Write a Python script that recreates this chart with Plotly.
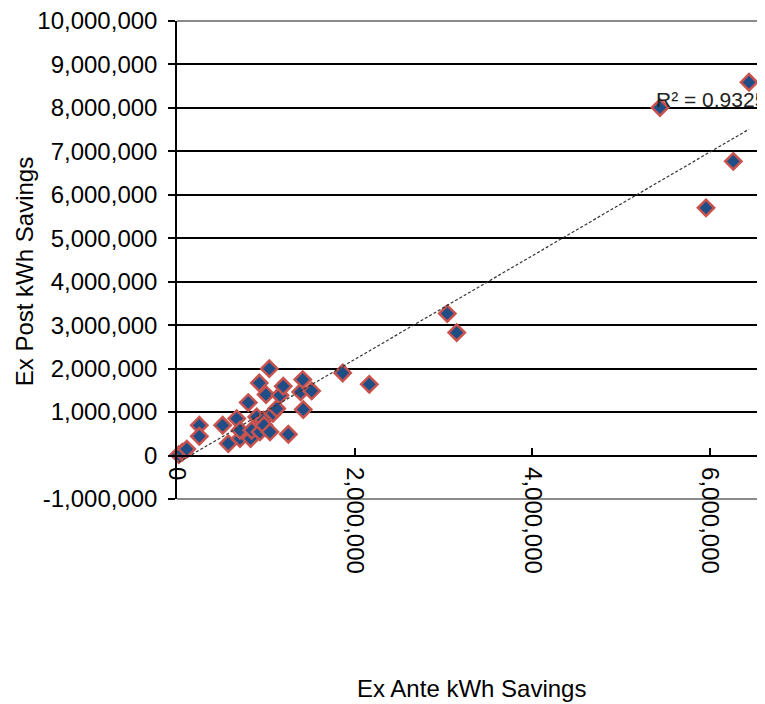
import numpy as np
import plotly.graph_objects as go

# Data (kWh)
ex_ante = [20000, 60000, 110000, 251000, 251000, 514000, 577000, 672000, 709000, 709000,
           802000, 829000, 841000, 897000, 934000, 971000, 979000, 926000, 1002000, 1039000,
           1047000, 1080000, 1122000, 1159000, 1196000, 1253000, 1392000, 1415000, 1421000,
           1516000, 1865000, 2164000, 3042000, 3148000, 5436000, 5954000, 6261000, 6438000]
ex_post = [20000, 80000, 150000, 697000, 444000, 697000, 276000, 851000, 391000, 582000,
           1220000, 391000, 582000, 888000, 543000, 812000, 697000, 1670000, 1404000, 2000000,
           543000, 973000, 1080000, 1387000, 1595000, 490000, 1463000, 1749000, 1058000,
           1486000, 1900000, 1640000, 3267000, 2830000, 8007000, 5700000, 6770000, 8590000]

x_tick_vals = [0, 2000000, 4000000, 6000000]
x_tick_text = ["0", "2,000,000", "4,000,000", "6,000,000"]
y_tick_vals = [-1000000, 0, 1000000, 2000000, 3000000, 4000000, 5000000,
               6000000, 7000000, 8000000, 9000000, 10000000]
y_tick_text = [f"{v:,}" for v in y_tick_vals]

r2_label = "R² = 0.9325"
x_title = "Ex Ante kWh Savings"
y_title = "Ex Post kWh Savings"

FONT = "Liberation Sans, Arial, sans-serif"

# Linear trendline from the data
xa = np.array(ex_ante, dtype=float)
ya = np.array(ex_post, dtype=float)
slope, intercept = np.polyfit(xa, ya, 1)
tx = [xa.min(), xa.max()]
ty = [slope * v + intercept for v in tx]

fig = go.Figure()
fig.add_trace(go.Scatter(
    x=ex_ante, y=ex_post, mode="markers", cliponaxis=False,
    marker=dict(symbol="diamond", size=12.5, color="#1F4E87",
                line=dict(color="#C8534E", width=2.5)),
    showlegend=False,
))
fig.add_trace(go.Scatter(
    x=tx, y=ty, mode="lines", cliponaxis=False,
    line=dict(color="#333333", width=1.2, dash="3px,2px"),
    showlegend=False,
))

# page body has an 8px margin -> figure sized to fit the window exactly
W, H = 757, 696
ML, MT, MB = 169, 12.7, 205.2
PW, PH = W - ML, H - MT - MB


def px(fx):
    return (fx - ML) / PW


def py(fy):
    return (H - MB - fy) / PH


fig.update_layout(
    width=W, height=H,
    margin=dict(l=ML, r=0, t=MT, b=MB, autoexpand=False),
    paper_bgcolor="white", plot_bgcolor="white",
    font=dict(family=FONT, size=24, color="#000000"),
    xaxis=dict(
        range=[0, 6618000], tickvals=x_tick_vals, ticktext=x_tick_text,
        tickangle=90, ticks="inside", ticklen=7, tickcolor="#000", tickwidth=1.5,
        ticklabelstandoff=6, ticklabeloverflow="allow",
        showline=True, linecolor="#000", linewidth=1.5,
        anchor="free", position=1/11,
        showgrid=False, zeroline=False,
        tickfont=dict(family=FONT, size=24, color="#000"),
    ),
    yaxis=dict(
        range=[-1000000, 10000000], tickvals=y_tick_vals, ticktext=y_tick_text,
        ticks="outside", ticklen=7, tickcolor="#000", tickwidth=1.5,
        ticklabelstandoff=6, ticklabeloverflow="allow",
        showline=True, linecolor="#000", linewidth=1.5,
        showgrid=True, gridcolor="#000", gridwidth=1.5,
        zeroline=False,
        tickfont=dict(family=FONT, size=24, color="#000"),
    ),
    shapes=[
        dict(type="line", xref="paper", yref="paper", x0=0, x1=1, y0=1, y1=1,
             line=dict(color="#8A8A8A", width=2), layer="between"),
        dict(type="line", xref="paper", yref="paper", x0=0, x1=1, y0=0, y1=0,
             line=dict(color="#8A8A8A", width=2), layer="between"),
    ],
    annotations=[
        dict(text=r2_label, x=5370000, y=8200000, xref="x", yref="y",
             xanchor="left", yanchor="middle", showarrow=False,
             font=dict(family=FONT, size=21, color="#222")),
        dict(text=x_title, x=px(463), y=py(680), xref="paper", yref="paper",
             xanchor="center", yanchor="middle", showarrow=False,
             font=dict(family=FONT, size=24, color="#000")),
        dict(text=y_title, x=px(16), y=py(264), xref="paper", yref="paper",
             xanchor="center", yanchor="middle", showarrow=False, textangle=-90,
             font=dict(family=FONT, size=24, color="#000")),
    ],
)

fig.write_html("out.html")
